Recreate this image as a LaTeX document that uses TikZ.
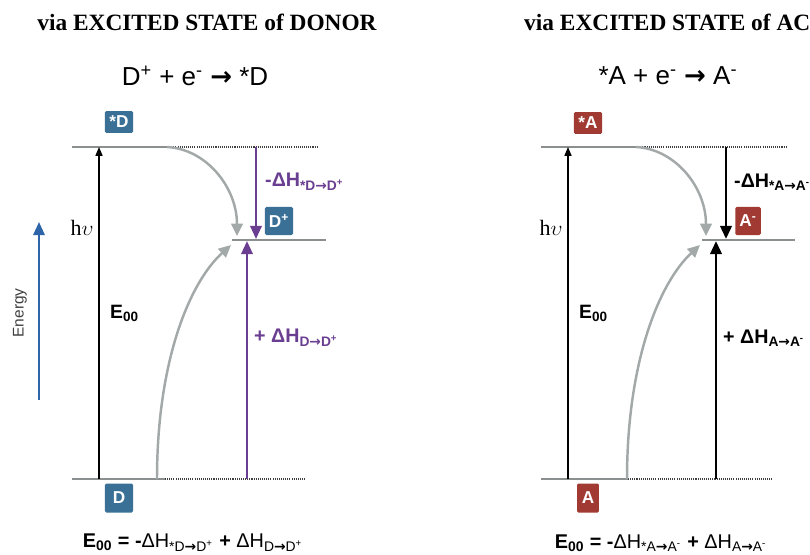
\documentclass[tikz,border=0pt]{standalone}
\usepackage{fontspec}
\setmainfont{Liberation Serif}
\setsansfont{Liberation Sans}
\newfontfamily\arrowfont{DejaVu Sans}
\usetikzlibrary{arrows.meta,positioning}
\definecolor{donor}{RGB}{58,112,150}
\definecolor{acceptor}{RGB}{160,58,50}
\definecolor{enth}{RGB}{106,62,145}
\definecolor{relaxgray}{RGB}{163,168,168}
\definecolor{lvl}{RGB}{140,143,144}
\definecolor{energyblue}{RGB}{46,100,168}
\newcommand{\fs}[1]{\fontsize{#1}{#1}\selectfont}
\newcommand{\tto}{{\arrowfont\bfseries →}}

\begin{document}
\begin{tikzpicture}[
  x=0.02cm, y=-0.02cm, font=\sffamily,
  level/.style={draw=lvl, line width=1.5pt},
  dots/.style={draw=black!75, line width=0.7pt, dash pattern=on 0.6pt off 0.6pt},
  lbox/.style={fill=#1, text=white, font=\sffamily\bfseries\fs{9.8}, rounded corners=0.8pt, minimum width=16pt, inner sep=1pt},
  hvarr/.style={-{Triangle[length=5pt,width=4pt]}, line width=0.7pt},
  dharr/.style={-{Triangle[length=7.5pt,width=6.5pt]}, line width=#1},
  relax/.style={-{Triangle[length=7pt,width=6.5pt]}, line width=1.4pt, draw=relaxgray},
  title/.style={font=\rmfamily\bfseries\fs{13.3}},
  eqn/.style={font=\sffamily\fs{14.8}},
  dhlab/.style={anchor=west, font=\sffamily\bfseries\fs{11.2}},
  e00/.style={anchor=west, font=\sffamily\bfseries\fs{11}},
  sum/.style={font=\sffamily\fs{11.3}},
]
\useasboundingbox (0,0) rectangle (810,554);

% titles and reactions
\node[title] (titleD) at (207,22) {via EXCITED STATE of DONOR};
\node[title, anchor=west] (titleA) at (518,22) {via EXCITED STATE of AC};
\node[eqn] (rxnD) at (195,76) {D\textsuperscript{+} + e\textsuperscript{-} \tto{} *D};
\node[eqn] (rxnA) at (668,76) {*A + e\textsuperscript{-} \tto{} A\textsuperscript{-}};

% energy axis
\coordinate (enB) at (39,400);
\coordinate (enT) at (39,222);
\draw[dharr=1.3pt, draw=energyblue] (enB) -- (enT);
\node[rotate=90, text=black!75, font=\sffamily\fs{8.8}] (energy) at (20,313) {Energy};

% ---- donor ----
\coordinate (dS0) at (72,147);  \coordinate (dS1) at (167,147); \coordinate (dS2) at (318,147);
\coordinate (dM0) at (232,240); \coordinate (dM1) at (326,240);
\coordinate (dG0) at (72,479);  \coordinate (dG1) at (165,479); \coordinate (dG2) at (305,479);
\draw[dots] (dS1) -- (dS2);
\draw[dots] (dG1) -- (dG2);
\draw[level] (dS0) -- (dS1);
\draw[level] (dM0) -- (dM1);
\draw[level] (dG0) -- (dG1);

\node[lbox=donor, minimum height=12.5pt] (Dstar) at (119,122) {*D};
\node[lbox=donor, minimum height=16pt] (Dplus) at (279,221) {D\textsuperscript{+}};
\node[lbox=donor, minimum height=16.5pt] (Dgnd) at (119,498) {D};

\coordinate (dhvB) at (99,479);  \coordinate (dhvT) at (99,147);
\draw[hvarr] (dhvB) -- (dhvT);
\node (hvD) at (82,228) {\rmfamily\fs{12.5}h$\upsilon$};
\node[e00] (e00D) at (104,313) {E\textsubscript{00}};

\coordinate (dRtip) at (237,236);
\draw[relax] (dS1) .. controls (206,149) and (237,187) .. (dRtip);
\coordinate (dCbot) at (157,479); \coordinate (dCtip) at (231,245);
\draw[relax] (dCbot) .. controls (157,360) and (190,282) .. (dCtip);

\coordinate (dDT) at (256,147); \coordinate (dDB) at (256,239);
\draw[dharr=1.4pt, draw=enth] (dDT) -- (dDB);
\coordinate (dUB) at (247,479); \coordinate (dUT) at (247,241);
\draw[dharr=1.4pt, draw=enth] (dUB) -- (dUT);
\node[dhlab, text=enth] (dhD1) at (259,182) {-ΔH\textsubscript{*D\tto D\textsuperscript{+}}};
\node[dhlab, text=enth] (dhD2) at (248,338) {+ ΔH\textsubscript{D\tto D\textsuperscript{+}}};

\node[sum] (sumD) at (193,543) {\textbf{E\textsubscript{00} = -}ΔH\textsubscript{*D\tto D\textsuperscript{+}} \textbf{+} ΔH\textsubscript{D\tto D\textsuperscript{+}}};

% ---- acceptor ----
\coordinate (aS0) at (541,147); \coordinate (aS1) at (636,147); \coordinate (aS2) at (787,147);
\coordinate (aM0) at (702,240); \coordinate (aM1) at (795,240);
\coordinate (aG0) at (541,479); \coordinate (aG1) at (628,479); \coordinate (aG2) at (773,479);
\draw[dots] (aS1) -- (aS2);
\draw[dots] (aG1) -- (aG2);
\draw[level] (aS0) -- (aS1);
\draw[level] (aM0) -- (aM1);
\draw[level] (aG0) -- (aG1);

\node[lbox=acceptor, minimum height=12.5pt] (Astar) at (588,123) {*A};
\node[lbox=acceptor, minimum height=16pt, minimum width=14.5pt] (Aminus) at (748,221) {A\textsuperscript{-}};
\node[lbox=acceptor, minimum height=16.5pt, minimum width=12.5pt] (Agnd) at (588,498) {A};

\coordinate (ahvB) at (568,479); \coordinate (ahvT) at (568,147);
\draw[hvarr] (ahvB) -- (ahvT);
\node (hvA) at (551,228) {\rmfamily\fs{12.5}h$\upsilon$};
\node[e00] (e00A) at (573,313) {E\textsubscript{00}};

\coordinate (aRtip) at (706,236);
\draw[relax] (aS1) .. controls (675,149) and (706,187) .. (aRtip);
\coordinate (aCbot) at (627,479); \coordinate (aCtip) at (700,245);
\draw[relax] (aCbot) .. controls (627,360) and (660,282) .. (aCtip);

\coordinate (aDT) at (726,147); \coordinate (aDB) at (726,239);
\draw[dharr=1.6pt] (aDT) -- (aDB);
\coordinate (aUB) at (716,479); \coordinate (aUT) at (716,241);
\draw[dharr=1.6pt] (aUB) -- (aUT);
\node[dhlab] (dhA1) at (728,182) {-ΔH\textsubscript{*A\tto A\textsuperscript{-}}};
\node[dhlab] (dhA2) at (717,338) {+ ΔH\textsubscript{A\tto A\textsuperscript{-}}};

\node[sum] (sumA) at (661,543) {\textbf{E\textsubscript{00} = -}ΔH\textsubscript{*A\tto A\textsuperscript{-}} \textbf{+} ΔH\textsubscript{A\tto A\textsuperscript{-}}};
\end{tikzpicture}
\end{document}
